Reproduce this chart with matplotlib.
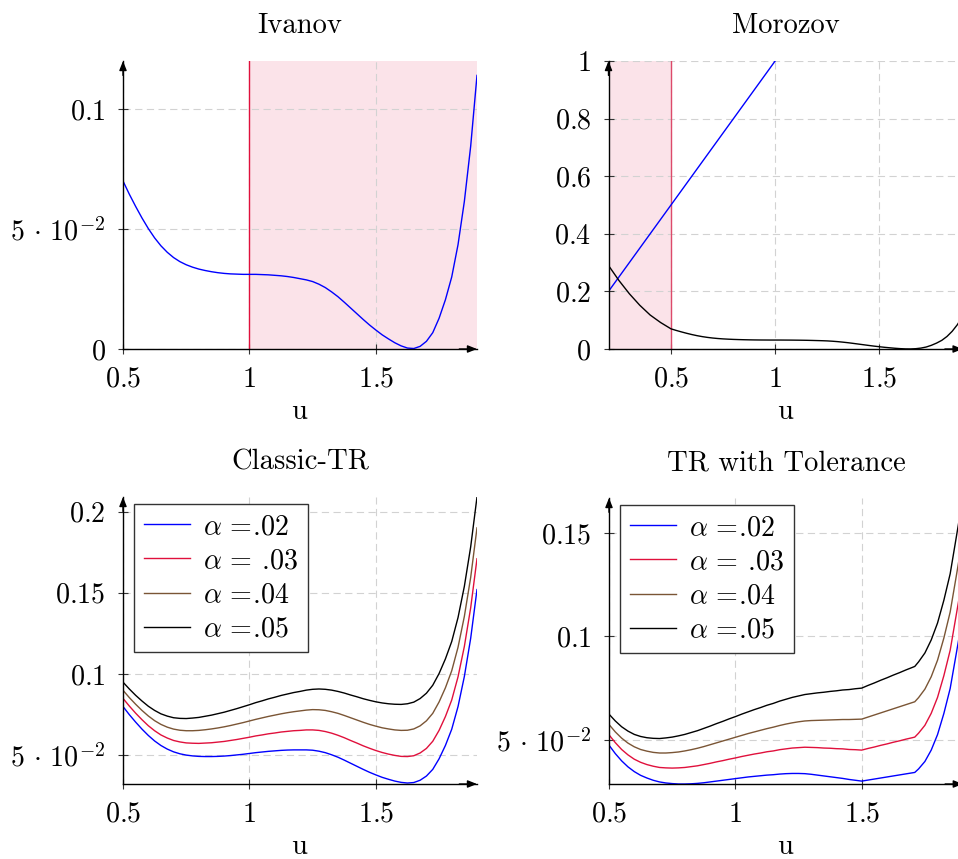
import matplotlib
matplotlib.use("Agg")
import matplotlib.pyplot as plt
from matplotlib.lines import Line2D

plt.rcParams["mathtext.fontset"] = "cm"
plt.rcParams["font.family"] = ["cmr10", "DejaVu Serif"]
plt.rcParams["axes.unicode_minus"] = False
plt.rcParams["axes.formatter.use_mathtext"] = True

# ---------------------------------------------------------------- data
u_obj = [0.500, 0.525, 0.550, 0.575, 0.600, 0.625, 0.650, 0.675, 0.700, 0.725,
         0.750, 0.775, 0.800, 0.825, 0.850, 0.875, 0.900, 0.925, 0.950, 0.975,
         1.000, 1.025, 1.050, 1.075, 1.100, 1.125, 1.150, 1.175, 1.200, 1.225,
         1.250, 1.275, 1.300, 1.325, 1.350, 1.375, 1.400, 1.425, 1.450, 1.475,
         1.500, 1.525, 1.550, 1.575, 1.600, 1.625, 1.650, 1.675, 1.700, 1.725,
         1.750, 1.775, 1.800, 1.825, 1.850, 1.875, 1.900]
ivanov_obj = [0.0700, 0.0645, 0.0594, 0.0546, 0.0502, 0.0463, 0.0430, 0.0403, 0.0381, 0.0364,
              0.0351, 0.0341, 0.0333, 0.0327, 0.0322, 0.0318, 0.0315, 0.0313, 0.0312, 0.0311,
              0.0311, 0.0311, 0.0310, 0.0309, 0.0307, 0.0305, 0.0302, 0.0298, 0.0293, 0.0288,
              0.0281, 0.0270, 0.0256, 0.0238, 0.0218, 0.0195, 0.0171, 0.0147, 0.0123, 0.0100,
              0.0079, 0.0059, 0.0042, 0.0026, 0.0013, 0.0004, 0.0002, 0.0011, 0.0032, 0.0068,
              0.0128, 0.0205, 0.0300, 0.0435, 0.0615, 0.0845, 0.1140]
ivanov_region = [1.0, 1.9]

morozov_u = [0.20, 0.25, 0.30, 0.35, 0.40, 0.45] + u_obj
morozov_obj = [0.290, 0.238, 0.192, 0.152, 0.118, 0.092] + ivanov_obj
morozov_line_u = [0.2, 1.0]
morozov_line_v = [0.2, 1.0]
morozov_region = [0.2, 0.5]

alpha_labels = [r"$\alpha\, =\!$.02", r"$\alpha\, =\!$ .03", r"$\alpha\, =\!$.04", r"$\alpha\, =\!$.05"]

classic_a02 = [0.0800, 0.0750, 0.0704, 0.0661, 0.0622, 0.0588, 0.0560, 0.0538, 0.0521, 0.0509,
               0.0501, 0.0496, 0.0493, 0.0492, 0.0492, 0.0493, 0.0495, 0.0498, 0.0502, 0.0506,
               0.0511, 0.0516, 0.0520, 0.0524, 0.0527, 0.0530, 0.0532, 0.0533, 0.0533, 0.0533,
               0.0531, 0.0525, 0.0516, 0.0503, 0.0488, 0.0470, 0.0451, 0.0432, 0.0413, 0.0395,
               0.0379, 0.0364, 0.0352, 0.0341, 0.0333, 0.0329, 0.0332, 0.0346, 0.0372, 0.0413,
               0.0478, 0.0560, 0.0660, 0.0800, 0.0985, 0.1220, 0.1520]
classic_a03 = [0.0850, 0.0803, 0.0759, 0.0719, 0.0682, 0.0651, 0.0625, 0.0606, 0.0591, 0.0582,
               0.0576, 0.0574, 0.0573, 0.0575, 0.0577, 0.0581, 0.0585, 0.0591, 0.0597, 0.0604,
               0.0611, 0.0619, 0.0625, 0.0632, 0.0637, 0.0643, 0.0647, 0.0651, 0.0653, 0.0656,
               0.0656, 0.0653, 0.0646, 0.0636, 0.0623, 0.0608, 0.0591, 0.0575, 0.0558, 0.0543,
               0.0529, 0.0517, 0.0507, 0.0499, 0.0493, 0.0492, 0.0497, 0.0514, 0.0542, 0.0586,
               0.0653, 0.0738, 0.0840, 0.0983, 0.1170, 0.1408, 0.1710]
classic_a04 = [0.0900, 0.0855, 0.0814, 0.0776, 0.0742, 0.0713, 0.0690, 0.0673, 0.0661, 0.0654,
               0.0651, 0.0651, 0.0653, 0.0657, 0.0662, 0.0668, 0.0675, 0.0683, 0.0692, 0.0701,
               0.0711, 0.0721, 0.0730, 0.0739, 0.0747, 0.0755, 0.0762, 0.0768, 0.0773, 0.0778,
               0.0781, 0.0780, 0.0776, 0.0768, 0.0758, 0.0745, 0.0731, 0.0717, 0.0703, 0.0690,
               0.0679, 0.0669, 0.0662, 0.0656, 0.0653, 0.0654, 0.0662, 0.0681, 0.0712, 0.0758,
               0.0828, 0.0915, 0.1020, 0.1165, 0.1355, 0.1595, 0.1900]
classic_a05 = [0.0950, 0.0908, 0.0869, 0.0834, 0.0802, 0.0776, 0.0755, 0.0741, 0.0731, 0.0727,
               0.0726, 0.0729, 0.0733, 0.0740, 0.0747, 0.0756, 0.0765, 0.0776, 0.0787, 0.0799,
               0.0811, 0.0824, 0.0835, 0.0847, 0.0857, 0.0868, 0.0877, 0.0886, 0.0893, 0.0901,
               0.0906, 0.0908, 0.0906, 0.0901, 0.0893, 0.0883, 0.0871, 0.0860, 0.0848, 0.0838,
               0.0829, 0.0822, 0.0817, 0.0814, 0.0813, 0.0817, 0.0827, 0.0849, 0.0882, 0.0931,
               0.1003, 0.1093, 0.1200, 0.1348, 0.1540, 0.1783, 0.2090]

u_tol = [0.500, 0.525, 0.550, 0.575, 0.600, 0.625, 0.650, 0.675, 0.700, 0.725,
         0.750, 0.775, 0.800, 0.825, 0.850, 0.875, 0.900, 0.925, 0.950, 0.975,
         1.000, 1.025, 1.050, 1.075, 1.100, 1.125, 1.150, 1.175, 1.200, 1.225,
         1.250, 1.275, 1.300, 1.325, 1.350, 1.375, 1.400, 1.425, 1.450, 1.475,
         1.500, 1.525, 1.550, 1.575, 1.600, 1.625, 1.650, 1.675, 1.700, 1.710,
         1.725, 1.750, 1.775, 1.800, 1.825, 1.850, 1.875, 1.900]
tol_a02 = [0.0474, 0.0433, 0.0398, 0.0369, 0.0346, 0.0328, 0.0315, 0.0304, 0.0296, 0.0291,
           0.0288, 0.0286, 0.0286, 0.0287, 0.0289, 0.0292, 0.0296, 0.0300, 0.0304, 0.0308,
           0.0312, 0.0316, 0.0320, 0.0323, 0.0326, 0.0329, 0.0331, 0.0334, 0.0336, 0.0337,
           0.0337, 0.0336, 0.0333, 0.0329, 0.0325, 0.0321, 0.0317, 0.0313, 0.0308, 0.0304,
           0.0300, 0.0305, 0.0310, 0.0315, 0.0320, 0.0325, 0.0330, 0.0335, 0.0340, 0.0342,
           0.0359, 0.0395, 0.0450, 0.0525, 0.0627, 0.0748, 0.0923, 0.1100]
tol_a03 = [0.0524, 0.0486, 0.0453, 0.0427, 0.0406, 0.0391, 0.0380, 0.0372, 0.0366, 0.0364,
           0.0363, 0.0364, 0.0366, 0.0370, 0.0374, 0.0380, 0.0386, 0.0393, 0.0399, 0.0406,
           0.0412, 0.0419, 0.0425, 0.0431, 0.0436, 0.0442, 0.0446, 0.0452, 0.0456, 0.0460,
           0.0462, 0.0464, 0.0463, 0.0462, 0.0460, 0.0459, 0.0457, 0.0456, 0.0453, 0.0452,
           0.0450, 0.0458, 0.0465, 0.0473, 0.0480, 0.0488, 0.0495, 0.0503, 0.0510, 0.0513,
           0.0532, 0.0570, 0.0628, 0.0705, 0.0810, 0.0933, 0.1111, 0.1290]
tol_a04 = [0.0574, 0.0538, 0.0508, 0.0484, 0.0466, 0.0453, 0.0445, 0.0439, 0.0436, 0.0436,
           0.0438, 0.0441, 0.0446, 0.0452, 0.0459, 0.0467, 0.0476, 0.0485, 0.0494, 0.0503,
           0.0512, 0.0521, 0.0530, 0.0538, 0.0546, 0.0554, 0.0561, 0.0569, 0.0576, 0.0582,
           0.0587, 0.0591, 0.0593, 0.0594, 0.0595, 0.0596, 0.0597, 0.0598, 0.0598, 0.0599,
           0.0600, 0.0610, 0.0620, 0.0630, 0.0640, 0.0650, 0.0660, 0.0670, 0.0680, 0.0684,
           0.0704, 0.0745, 0.0805, 0.0885, 0.0992, 0.1118, 0.1298, 0.1480]
tol_a05 = [0.0624, 0.0591, 0.0563, 0.0542, 0.0526, 0.0516, 0.0510, 0.0507, 0.0506, 0.0509,
           0.0513, 0.0519, 0.0526, 0.0535, 0.0544, 0.0555, 0.0566, 0.0578, 0.0589, 0.0601,
           0.0612, 0.0624, 0.0635, 0.0646, 0.0656, 0.0667, 0.0676, 0.0687, 0.0696, 0.0705,
           0.0712, 0.0719, 0.0723, 0.0727, 0.0730, 0.0734, 0.0737, 0.0741, 0.0743, 0.0747,
           0.0750, 0.0763, 0.0775, 0.0788, 0.0800, 0.0813, 0.0825, 0.0838, 0.0850, 0.0855,
           0.0877, 0.0920, 0.0983, 0.1065, 0.1175, 0.1303, 0.1486, 0.1670]

# ---------------------------------------------------------------- style
BLUE = "#0000ff"
RED = "#e0103c"
BROWN = "#7a5535"
BLACK = "#000000"
SHADE = "#fbe3e9"
GRID = "#d2d2d2"
FS = 20.2
FS_TITLE = 20.6
LW = 1.0
series_colors = [BLUE, RED, BROWN, BLACK]

W, H = 958, 859
fig = plt.figure(figsize=(W / 100, H / 100), dpi=100)


def add_axes_px(left, top, right, bottom):
    return fig.add_axes([left / W, 1 - bottom / H, (right - left) / W, (bottom - top) / H])


def style(ax, title, xticks, xlabels, yticks, ylabels):
    ax.set_title(title, fontsize=FS_TITLE, pad=20)
    ax.set_xticks(xticks, labels=xlabels)
    ax.set_yticks(yticks, labels=ylabels)
    ax.set_xlabel(r"$\mathrm{u}$", fontsize=FS_TITLE, labelpad=4)
    ax.tick_params(direction="inout", length=7, width=0.8, colors="#333333",
                   labelcolor="black", labelsize=FS, pad=9)
    ax.grid(True, color=GRID, linestyle=(0, (6.5, 4)), linewidth=0.8)
    ax.set_axisbelow(True)
    for side in ("top", "right"):
        ax.spines[side].set_visible(False)
    for side in ("left", "bottom"):
        ax.spines[side].set_linewidth(1.0)
        ax.spines[side].set_zorder(3)
    arrow = dict(arrowstyle="-|>,head_length=0.55,head_width=0.22", lw=1.0,
                 color="black", shrinkA=0, shrinkB=0, mutation_scale=10)
    ax.annotate("", xy=(1, 0), xytext=(0.95, 0), xycoords="axes fraction",
                arrowprops=arrow, annotation_clip=False, zorder=4)
    ax.annotate("", xy=(0, 1), xytext=(0, 0.95), xycoords="axes fraction",
                arrowprops=arrow, annotation_clip=False, zorder=4)


x_ticks = [0.5, 1.0, 1.5]
x_labels = ["$0.5$", "$1$", "$1.5$"]
sci_label = r"$5\,\cdot\,10^{-2}$"

# ---- Ivanov
ax1 = add_axes_px(123, 61, 477, 349)
ax1.axvspan(ivanov_region[0], ivanov_region[1], color=SHADE, lw=0, zorder=0.2)
ax1.axvline(ivanov_region[0], color=RED, lw=LW, zorder=1.5)
ax1.plot(u_obj, ivanov_obj, color=BLUE, lw=LW, zorder=2)
ax1.set_xlim(0.5, 1.9)
ax1.set_ylim(0, 0.12)
style(ax1, "Ivanov", x_ticks, x_labels, [0, 0.05, 0.1], ["$0$", sci_label, "$0.1$"])

# ---- Morozov
ax2 = add_axes_px(608.5, 61, 962.6, 349)
ax2.axvspan(morozov_region[0], morozov_region[1], color=SHADE, lw=0, zorder=0.2)
ax2.axvline(morozov_region[1], color="#dd4a6a", lw=LW, zorder=1.5)
ax2.plot(morozov_line_u, morozov_line_v, color=BLUE, lw=LW, zorder=2)
ax2.plot(morozov_u, morozov_obj, color=BLACK, lw=LW, zorder=2)
ax2.set_xlim(0.2, 1.9)
ax2.set_ylim(0, 1)
style(ax2, "Morozov", x_ticks, x_labels,
      [0, 0.2, 0.4, 0.6, 0.8, 1.0], ["$0$", "$0.2$", "$0.4$", "$0.6$", "$0.8$", "$1$"])

# ---- Classic-TR
ax3 = add_axes_px(123, 497, 477, 784)
classic = [classic_a02, classic_a03, classic_a04, classic_a05]
for ys, c in zip(classic, series_colors):
    ax3.plot(u_obj, ys, color=c, lw=LW, zorder=2)
ax3.set_xlim(0.5, 1.9)
ax3.set_ylim(min(min(s) for s in classic) - 0.0006, max(max(s) for s in classic))
style(ax3, "Classic-TR", x_ticks, x_labels,
      [0.05, 0.1, 0.15, 0.2], [sci_label, "$0.1$", "$0.15$", "$0.2$"])

# ---- TR with Tolerance
ax4 = add_axes_px(609, 498, 962.8, 784)
tol = [tol_a02, tol_a03, tol_a04, tol_a05]
for ys, c in zip(tol, series_colors):
    ax4.plot(u_tol, ys, color=c, lw=LW, zorder=2)
ax4.set_xlim(0.5, 1.9)
ax4.set_ylim(min(min(s) for s in tol), max(max(s) for s in tol))
style(ax4, "TR with Tolerance", x_ticks, x_labels,
      [0.05, 0.1, 0.15], [sci_label, "$0.1$", "$0.15$"])

for ax in (ax3, ax4):
    handles = [Line2D([], [], color=c, lw=LW) for c in series_colors]
    leg = ax.legend(handles, alpha_labels, loc="upper left",
                    bbox_to_anchor=(0.031, 0.976), borderaxespad=0,
                    fontsize=FS, frameon=True, fancybox=False, framealpha=1,
                    edgecolor="#333333", handlelength=1.65, handletextpad=0.45,
                    labelspacing=0.28, borderpad=0.35)
    leg.get_frame().set_linewidth(1.0)
    leg.set_zorder(5)

fig.savefig("out.png", dpi=100)
